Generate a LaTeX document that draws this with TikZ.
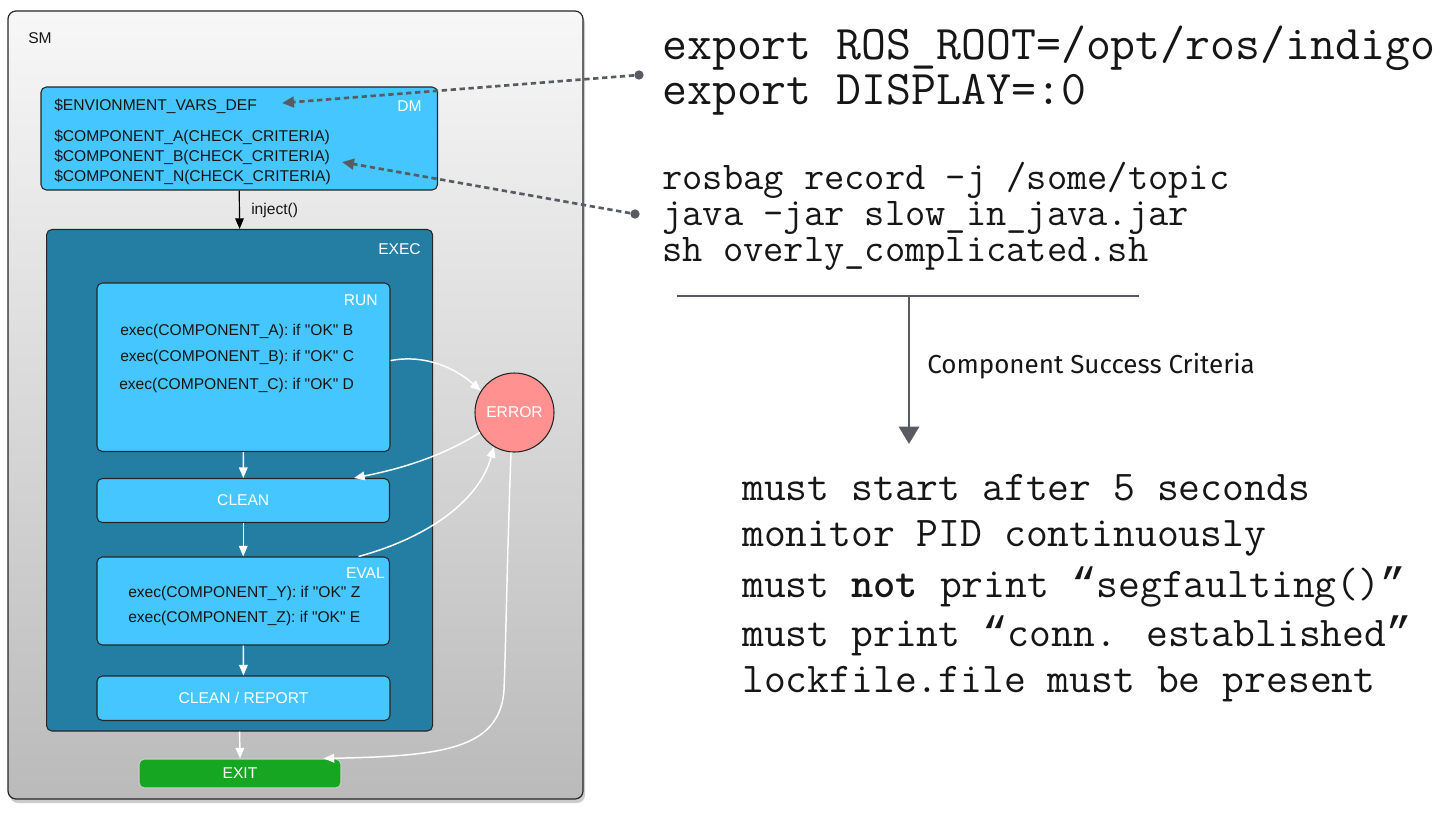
\documentclass[tikz,border=0pt]{standalone}
\usepackage{fontspec}
\setmainfont{Liberation Sans}
\newfontfamily\csfont{Fira Sans}
\newfontfamily\lmono{Liberation Mono}
\usetikzlibrary{arrows.meta,shadows}
\definecolor{lblue}{RGB}{70,198,254}
\definecolor{dteal}{RGB}{36,126,164}
\definecolor{errred}{RGB}{255,145,145}
\definecolor{exitgreen}{RGB}{22,166,34}
\definecolor{dashgrey}{RGB}{88,92,98}
\definecolor{txt}{RGB}{22,22,22}
\def\pxu{*0.75pt}
\newcommand\myLQ{{\lmono “}}
\newcommand\myRQ{{\lmono ”}}
\tikzset{
  sf/.style={font=\fontsize{11.7}{13}\selectfont},
  box/.style={draw=black!85, line width=0.8pt, rounded corners=4pt, inner sep=0pt, fill=lblue},
  wtxt/.style={sf, text=white, inner sep=0pt},
  btxt/.style={sf, text=txt, inner sep=0pt},
  warr/.style={draw=white, line width=1.1pt, -{Triangle[length=8pt,width=6.5pt]}},
  dashc/.style={draw=dashgrey, line width=2pt, dash pattern=on 4pt off 2.7pt, -{Triangle[length=9pt,width=8pt]}},
  dotn/.style={circle, fill=dashgrey, minimum size=7pt, inner sep=0pt},
  monoa/.style={font=\ttfamily\fontsize{36.3}{40}\selectfont, anchor=base west, inner sep=0pt, text=txt},
  monob/.style={font=\ttfamily\fontsize{29.5}{33}\selectfont, anchor=base west, inner sep=0pt, text=txt},
  monoc/.style={font=\ttfamily\fontsize{31.8}{36}\selectfont, anchor=base west, inner sep=0pt, text=txt},
  roughline/.style={draw=dashgrey, line width=2.2pt},
}
\begin{document}
\begin{tikzpicture}[x=0.75pt,y=-0.75pt]
\useasboundingbox (0,0) rectangle (1440,819);
% SM container
\node[draw=black!85, line width=0.9pt, rounded corners=6pt, top color=white!97!black, bottom color=black!27,
      drop shadow={shadow xshift=1.5pt, shadow yshift=-3pt, opacity=0.4},
      minimum width=575\pxu, minimum height=788\pxu, inner sep=0pt] (sm) at (295.5,405) {};
\node[btxt, anchor=base west] (smlbl) at (28,43.5) {SM};
% DM
\node[box, minimum width=396.5\pxu, minimum height=103\pxu] (dm) at (239.25,138.5) {};
\node[btxt, anchor=base west] (envdef) at (54,110) {\$ENVIONMENT\_VARS\_DEF};
\node[wtxt, anchor=base east] (dmlbl) at (422,111) {DM};
\node[btxt, anchor=base west] (compa) at (54,141.5) {\$COMPONENT\_A(CHECK\_CRITERIA)};
\node[btxt, anchor=base west] (compb) at (54,161) {\$COMPONENT\_B(CHECK\_CRITERIA)};
\node[btxt, anchor=base west] (compn) at (54,181) {\$COMPONENT\_N(CHECK\_CRITERIA)};
% EXEC
\node[box, fill=dteal, minimum width=386\pxu, minimum height=501.5\pxu] (exec) at (239.6,480.25) {};
\node[wtxt, anchor=base east] (execl) at (421,254) {EXEC};
\draw[black, line width=0.9pt, -{Triangle[length=8pt,width=6.5pt]}] (dm.south) -- (exec.north);
\node[btxt, anchor=base west] (injl) at (251,214) {inject()};
% RUN
\node[box, minimum width=293\pxu, minimum height=168.5\pxu] (run) at (243.5,367.25) {};
\node[wtxt, anchor=base east] (runl) at (378,305) {RUN};
\node[btxt, anchor=base west] (exa) at (120,335) {exec(COMPONENT\_A): if \textquotedbl OK\textquotedbl\ B};
\node[btxt, anchor=base west] (exb) at (120,361) {exec(COMPONENT\_B): if \textquotedbl OK\textquotedbl\ C};
\node[btxt, anchor=base west] (exc) at (119,389) {exec(COMPONENT\_C): if \textquotedbl OK\textquotedbl\ D};
% CLEAN
\node[box, wtxt, minimum width=292.5\pxu, minimum height=44\pxu] (clean) at (243.25,500.5) {CLEAN};
% EVAL
\node[box, minimum width=292.5\pxu, minimum height=88\pxu] (eval) at (243.25,601) {};
\node[wtxt, anchor=base east] (evall) at (385,578) {EVAL};
\node[btxt, anchor=base west] (exy) at (128,597) {exec(COMPONENT\_Y): if \textquotedbl OK\textquotedbl\ Z};
\node[btxt, anchor=base west] (exz) at (128,622) {exec(COMPONENT\_Z): if \textquotedbl OK\textquotedbl\ E};
% CLEAN / REPORT
\node[box, wtxt, minimum width=293\pxu, minimum height=44.5\pxu] (clrep) at (243.5,698.25) {CLEAN / REPORT};
% EXIT
\node[box, wtxt, fill=exitgreen, draw=white!80!black, minimum width=202\pxu, minimum height=29\pxu] (exit) at (240,773.5) {EXIT};
% ERROR
\node[circle, draw=black!85, line width=0.8pt, fill=errred, wtxt, minimum size=79\pxu] (err) at (514.5,412.5) {ERROR};
% internal arrows
\draw[warr] (run) -- (clean);
\draw[warr] (clean) -- (eval);
\draw[warr] (eval) -- (clrep);
\draw[warr] (exec.south) -- (exit.north);
\draw[warr] ([yshift=5pt]run.east) .. controls (425,354) and (455,368) .. (err.147);
\draw[warr] (err.210) .. controls (440,458) and (395,470) .. ([xshift=-27pt]clean.north east);
\draw[warr] ([xshift=-23.6pt]eval.north east) .. controls (420,540) and (478,505) .. (err.239);
\draw[warr] (err.265) .. controls (507,560) and (506,640) .. (504,690) .. controls (500,750) and (440,756) .. ([xshift=-13.5pt]exit.north east);
% dashed connectors
\node[dotn] (dot1) at (639,75) {};
\node[dotn] (dot2) at (635,214) {};
\coordinate (tip1) at (282,103);
\coordinate (tip2) at (342,162);
\draw[dashc] (dot1) -- (tip1);
\draw[dashc] (dot2) -- (tip2);
% right side text
\node[monoa] (exp1) at (662,59) {export ROS\_ROOT=/opt/ros/indigo};
\node[monoa] (exp2) at (662,104) {export DISPLAY=:0};
\node[monob] (rb1) at (662,189) {rosbag record -j /some/topic};
\node[monob] (rb2) at (662,225) {java -jar slow\_in\_java.jar};
\node[monob] (rb3) at (662,261) {sh overly\_complicated.sh};
% criteria arrow
\coordinate (hl) at (677,296);
\coordinate (hr) at (1139,296);
\coordinate (hm) at (909,296);
\coordinate (ht) at (909,444);
\draw[roughline] (hl) -- (hr);
\draw[roughline, -{Triangle[length=13pt,width=15pt]}] (hm) -- (ht);
\node[font=\csfont\fontsize{19.5}{22}\selectfont, anchor=base west, inner sep=0pt, text=txt] (csc) at (927,373) {Component Success Criteria};
\node[monoc] (m1) at (742,500) {must start after 5 seconds};
\node[monoc] (m2) at (742,546) {monitor PID continuously};
\node[monoc] (m3) at (742,597) {must \textbf{not} print \myLQ segfaulting()\myRQ};
\node[monoc] (m4) at (742,646) {must print \myLQ conn. established\myRQ};
\node[monoc] (m5) at (742,692) {lockfile.file must be present};
\end{tikzpicture}
\end{document}
